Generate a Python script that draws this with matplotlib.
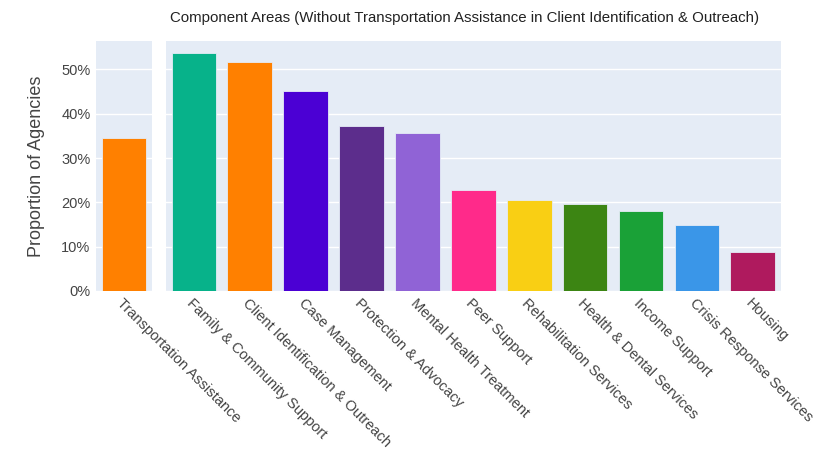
import matplotlib.pyplot as plt
from matplotlib.ticker import PercentFormatter

plt.rcParams['font.family'] = ['Liberation Sans', 'DejaVu Sans']

# left panel
left_cats = ["Transportation Assistance"]
left_vals = [34.6]
left_colors = ["#FF8000"]

# right panel
right_cats = ["Family & Community Support", "Client Identification & Outreach",
              "Case Management", "Protection & Advocacy", "Mental Health Treatment",
              "Peer Support", "Rehabilitation Services", "Health & Dental Services",
              "Income Support", "Crisis Response Services", "Housing"]
right_vals = [53.6, 51.6, 45.1, 37.3, 35.7, 22.7, 20.5, 19.6, 18.0, 14.8, 8.8]
right_colors = ["#07B28A", "#FF8000", "#4B00D4", "#5C2D8C", "#9063D6", "#FF2A8A",
                "#F9CF14", "#3C8513", "#1AA137", "#3A96E8", "#AF1A5E"]

bg = "#E5ECF6"
W, H = 830, 451
fig = plt.figure(figsize=(W / 100, H / 100), dpi=100)

top, bottom = 41, 291
ax1 = fig.add_axes([96 / W, 1 - bottom / H, 56 / W, (bottom - top) / H])
ax2 = fig.add_axes([166 / W, 1 - bottom / H, 614.7 / W, (bottom - top) / H])

for ax, cats, vals, cols in [(ax1, left_cats, left_vals, left_colors),
                             (ax2, right_cats, right_vals, right_colors)]:
    x = range(len(cats))
    ax.bar(x, vals, width=0.8, color=cols, edgecolor=bg, linewidth=0.6, zorder=3)
    ax.set_facecolor(bg)
    ax.set_xlim(-0.5, len(cats) - 0.5)
    ax.set_ylim(0, 56.4)
    ax.set_yticks([0, 10, 20, 30, 40, 50])
    ax.yaxis.set_major_formatter(PercentFormatter(decimals=0))
    ax.grid(axis='y', color='white', linewidth=1, zorder=0)
    for s in ax.spines.values():
        s.set_visible(False)
    ax.tick_params(length=0, labelsize=10.5, colors='#444444', pad=4)
    ax.set_xticks(list(x))
    ax.set_xticklabels(cats, rotation=-45, ha='left', va='top', rotation_mode='anchor')

ax2.tick_params(axis='y', labelleft=False)
ax1.set_ylabel("Proportion of Agencies", fontsize=13, color='#444444', labelpad=12)

fig.text(465 / W, 1 - 18 / H,
         "Component Areas (Without Transportation Assistance in Client Identification & Outreach)",
         ha='center', va='center', fontsize=10.8, color='#222222')

fig.savefig("out.png", dpi=100)
